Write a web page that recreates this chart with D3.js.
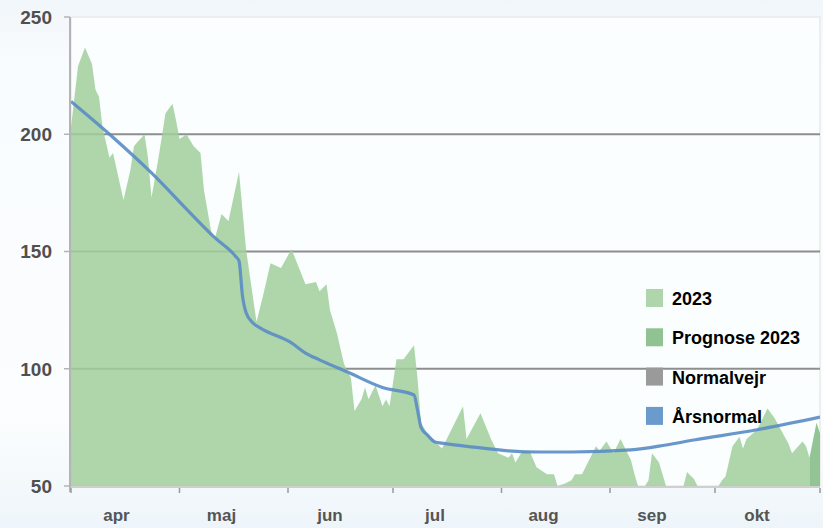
<!DOCTYPE html>
<html>
<head>
<meta charset="utf-8">
<script src="https://cdn.jsdelivr.net/npm/d3@7"></script>
<style>
  html, body { margin: 0; padding: 0; background: #fff; }
  svg { display: block; }
  .ylab { font-family: "Liberation Sans", Arial, sans-serif; font-weight: bold; font-size: 19px; fill: #505050; }
  .xlab { font-family: "Liberation Sans", Arial, sans-serif; font-weight: bold; font-size: 17px; fill: #555; }
  .leg  { font-family: "Liberation Sans", Arial, sans-serif; font-weight: bold; font-size: 18px; fill: #000; }
</style>
</head>
<body>
<svg id="chart" width="823" height="528"></svg>
<script>
// vandstand 2023 (observeret)
let obs2023 = [
  ["2023-03-31",203],["2023-04-02",229],["2023-04-04",237],["2023-04-06",230],["2023-04-07",219],
  ["2023-04-08",216],["2023-04-09",203],["2023-04-11",190],["2023-04-12",192],["2023-04-15",172],
  ["2023-04-17",185],["2023-04-18",195],["2023-04-21",200],["2023-04-22",190],["2023-04-23",173],
  ["2023-04-25",190],["2023-04-27",209],["2023-04-29",213],["2023-04-30",206],["2023-05-01",198],
  ["2023-05-03",200],["2023-05-05",195],["2023-05-07",192],["2023-05-08",176],["2023-05-10",159],
  ["2023-05-11",155],["2023-05-13",166],["2023-05-15",163],["2023-05-18",184],["2023-05-20",151],
  ["2023-05-23",120],["2023-05-25",132],["2023-05-27",145],["2023-05-30",143],["2023-06-02",151],
  ["2023-06-06",136],["2023-06-09",137],["2023-06-10",133],["2023-06-12",136],["2023-06-13",125],
  ["2023-06-15",115],["2023-06-17",102],["2023-06-19",96],["2023-06-20",82],["2023-06-22",87],
  ["2023-06-23",92],["2023-06-24",87],["2023-06-26",93],["2023-06-28",84],["2023-06-29",87],
  ["2023-06-30",84],["2023-07-02",104],["2023-07-04",104],["2023-07-07",110],["2023-07-08",96],
  ["2023-07-09",77],["2023-07-11",72],["2023-07-15",66],["2023-07-17",72],["2023-07-21",84],
  ["2023-07-22",70],["2023-07-26",81],["2023-07-29",70],["2023-07-31",64],["2023-08-03",62],
  ["2023-08-04",64],["2023-08-05",60],["2023-08-07",65],["2023-08-09",65],["2023-08-11",58],
  ["2023-08-14",55],["2023-08-16",55],["2023-08-17",50],["2023-08-19",51],["2023-08-21",52.5],
  ["2023-08-22",55],["2023-08-24",55],["2023-08-28",67],["2023-08-29",65],["2023-08-31",69],
  ["2023-09-02",64],["2023-09-04",70],["2023-09-07",61],["2023-09-08",55],["2023-09-09",50],
  ["2023-09-11",50],["2023-09-12",52.5],["2023-09-13",64],["2023-09-15",60],["2023-09-17",50],
  ["2023-09-22",50],["2023-09-23",56],["2023-09-25",53],["2023-09-26",50],["2023-10-02",50],
  ["2023-10-03",52.5],["2023-10-04",54],["2023-10-06",67],["2023-10-08",71],["2023-10-09",66],
  ["2023-10-10",70],["2023-10-13",74],["2023-10-16",83],["2023-10-18",79],["2023-10-22",68],
  ["2023-10-23",64],["2023-10-26",69],["2023-10-27",67],["2023-10-28",62]
];

let prognose2023 = [["2023-10-28",62],["2023-10-30",77],["2023-10-31",72.5]];

let aarsnormal = [
  ["2023-03-31",214],["2023-04-11",200],["2023-04-23",183.5],["2023-05-05",165],["2023-05-11",156],
  ["2023-05-17",148],["2023-05-18",146],["2023-05-19",131],["2023-05-20",124],["2023-05-22",119.5],
  ["2023-05-24",117.4],["2023-06-02",111],["2023-06-06",106.7],["2023-06-10",103.8],["2023-06-18",98.6],
  ["2023-06-28",92],["2023-07-07",88.8],["2023-07-08",82.4],["2023-07-09",75],["2023-07-11",71.5],
  ["2023-07-13",68.8],["2023-07-15",68.3],["2023-07-24",66.6],["2023-08-03",65],["2023-08-12",64.5],
  ["2023-08-21",64.5],["2023-09-07",65.4],["2023-09-17",67.5],["2023-09-25",69.6],["2023-10-13",74],
  ["2023-10-31",79.4]
];

let monthNames = ["apr","maj","jun","jul","aug","sep","okt"];
let monthStarts = ["2023-04-01","2023-05-01","2023-06-01","2023-07-01","2023-08-01","2023-09-01","2023-10-01"];
let yTicks = [50,100,150,200,250];
let legendNames = ["2023","Prognose 2023","Normalvejr","Årsnormal"];
let legendColors = ["#aed6aa","#90c292","#9a9a9a","#6a9bcc"];

let svg = d3.select("#chart"),
    width = +svg.attr("width"),
    height = +svg.attr("height"),
    margin = {top: 17, right: 3, bottom: 42, left: 71},
    parse = d3.timeParse("%Y-%m-%d");

let x = d3.scaleTime()
    .domain([parse("2023-03-31"), parse("2023-10-31")])
    .range([margin.left, width - margin.right]);
let y = d3.scaleLinear()
    .domain([50, 250])
    .range([height - margin.bottom, margin.top]);

// background gradient
let defs = svg.append("defs");
let bg = defs.append("linearGradient").attr("id","bg").attr("x1",0).attr("y1",0).attr("x2",0).attr("y2",1);
bg.append("stop").attr("offset","0%").attr("stop-color","#f1f6fa");
bg.append("stop").attr("offset","12%").attr("stop-color","#f9fcfe");
bg.append("stop").attr("offset","80%").attr("stop-color","#fbfdfe");
bg.append("stop").attr("offset","100%").attr("stop-color","#eef5fa");
defs.append("clipPath").attr("id","plotclip").append("rect")
    .attr("x", x.range()[0]).attr("y", y(250))
    .attr("width", x.range()[1] - x.range()[0]).attr("height", y(50) - y(250));

svg.append("rect").attr("width", width).attr("height", height).attr("fill","url(#bg)");

// plot area
svg.append("rect")
   .attr("x", x.range()[0]).attr("y", y(250))
   .attr("width", x.range()[1] - x.range()[0]).attr("height", y(50) - y(250))
   .attr("fill","#fafeff")
   .attr("stroke","#ebe9ea").attr("stroke-width",1.5);

// grid lines
svg.append("g").selectAll("line")
   .data(yTicks.filter(d => d > 50 && d < 250))
   .enter().append("line")
   .attr("x1", x.range()[0]).attr("x2", x.range()[1])
   .attr("y1", d => y(d)).attr("y2", d => y(d))
   .attr("stroke","#8e8e8e").attr("stroke-width",2);

let plot = svg.append("g").attr("clip-path","url(#plotclip)");

let area = d3.area()
    .x(d => x(parse(d[0])))
    .y0(y(50))
    .y1(d => y(d[1]));

plot.append("path").datum(obs2023)
    .attr("d", area)
    .attr("fill","rgb(160,207,155)").attr("fill-opacity",0.85);

plot.append("path").datum(prognose2023)
    .attr("d", area)
    .attr("fill","rgb(128,186,130)").attr("fill-opacity",0.85);

let line = d3.line()
    .curve(d3.curveMonotoneX)
    .x(d => x(parse(d[0])))
    .y(d => y(d[1]));

plot.append("path").datum(aarsnormal)
    .attr("d", line)
    .attr("fill","none")
    .attr("stroke","#5a8cc4").attr("stroke-width",3.2)
    .attr("stroke-opacity",0.9)
    .attr("stroke-linejoin","round");

// axes
svg.append("line")
   .attr("x1", x.range()[0]).attr("x2", x.range()[1])
   .attr("y1", y(50) + 1).attr("y2", y(50) + 1)
   .attr("stroke","#cfcfcf").attr("stroke-width",2);
svg.append("line")
   .attr("x1", x.range()[0] - 1).attr("x2", x.range()[0] - 1)
   .attr("y1", y(250)).attr("y2", y(50) + 6)
   .attr("stroke","#b4b4b4").attr("stroke-width",2);

let yAxis = svg.append("g");
yAxis.selectAll("line").data(yTicks).enter().append("line")
   .attr("x1", x.range()[0] - 7).attr("x2", x.range()[0] - 1)
   .attr("y1", d => y(d)).attr("y2", d => y(d))
   .attr("stroke","#b4b4b4").attr("stroke-width",1.5);
yAxis.selectAll("text").data(yTicks).enter().append("text")
   .attr("class","ylab")
   .attr("x", 52).attr("y", d => y(d))
   .attr("dy","0.36em")
   .attr("text-anchor","end")
   .text(d => d);

let tickDates = [parse("2023-03-31")].concat(monthStarts.slice(1).map(parse), [parse("2023-10-31")]);
svg.append("g").selectAll("line").data(tickDates).enter().append("line")
   .attr("x1", d => x(d)).attr("x2", d => x(d))
   .attr("y1", y(50) + 2).attr("y2", y(50) + 7)
   .attr("stroke","#9a9a9a").attr("stroke-width",1.5);

// month labels sit a little before mid-month
svg.append("g").selectAll("text").data(monthNames).enter().append("text")
   .attr("class","xlab")
   .attr("x", (d, i) => x(d3.timeDay.offset(parse(monthStarts[i]), 12)))
   .attr("y", 521)
   .attr("text-anchor","middle")
   .text(d => d);

// legend
let legend = svg.append("g").attr("transform","translate(646,289)");
let item = legend.selectAll("g").data(legendNames).enter().append("g")
   .attr("transform", (d, i) => "translate(0," + (i * 39.3) + ")");
item.append("rect")
   .attr("width",17).attr("height",18)
   .attr("fill", (d, i) => legendColors[i]);
item.append("text")
   .attr("class","leg")
   .attr("x",26).attr("y",16)
   .text(d => d);
</script>
</body>
</html>
